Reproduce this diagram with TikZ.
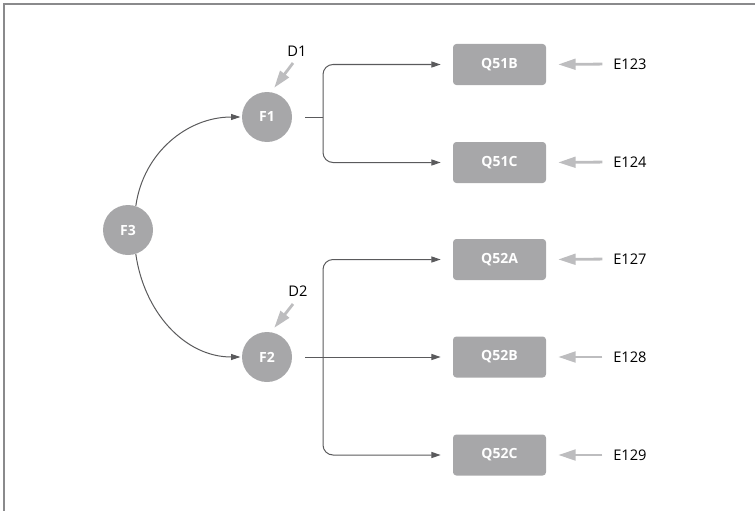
\documentclass[tikz,border=0pt]{standalone}
\usepackage{fontspec}
\setmainfont{Open Sans}
\usetikzlibrary{arrows.meta,calc}
\definecolor{framec}{HTML}{8A8A8C}
\definecolor{nodec}{HTML}{A7A7A9}
\definecolor{linec}{HTML}{5A5A5C}
\definecolor{garrc}{HTML}{BDBDBF}
\begin{document}
\begin{tikzpicture}[x=0.75pt,y=-0.75pt,
 fac/.style={circle,fill=nodec,minimum size=37.5pt,inner sep=0pt,text=white,font=\fontsize{10.5}{12}\selectfont\bfseries},
 item/.style={rectangle,rounded corners=2.5pt,fill=nodec,minimum width=69.75pt,minimum height=30.75pt,inner sep=0pt,text=white,font=\fontsize{10.5}{12}\selectfont\bfseries},
 lab/.style={font=\fontsize{11}{12}\selectfont,inner sep=0pt},
 conn/.style={draw=linec,line width=0.75pt},
 arr/.style={conn,-{Triangle[length=7pt,width=4.5pt]}},
 garr/.style={draw=garrc,line width=2.1pt,-{Triangle[length=13pt,width=8pt]}},
]
\useasboundingbox (0,0) rectangle (755,510);
\draw[framec,line width=1.5pt] (4,512) -- (4,4.5) -- (757,4.5);

\node[fac] (F3) at (128,230) {F3};
\node[fac] (F1) at (267,117) {F1};
\node[fac] (F2) at (267,357) {F2};

\node[item] (Q51B) at (499.5,64.5) {Q51B};
\node[item] (Q51C) at (499.5,162.5) {Q51C};
\node[item] (Q52A) at (499.5,259.5) {Q52A};
\node[item] (Q52B) at (499.5,357) {Q52B};
\node[item] (Q52C) at (499.5,455) {Q52C};

\node[lab,anchor=west] (E123) at (613,64) {E123};
\node[lab,anchor=west] (E124) at (613,162) {E124};
\node[lab,anchor=west] (E127) at (613,259) {E127};
\node[lab,anchor=west] (E128) at (613,357) {E128};
\node[lab,anchor=west] (E129) at (613,455) {E129};

\node[lab] (D1) at (297,51) {D1};
\node[lab] (D2) at (298,291) {D2};
\coordinate (d1t) at (293,63);
\coordinate (d2t) at (293,304);

% F3 to F1, F2
\draw[arr,shorten >=1pt] (F3.72) to[out=82,in=180] (F1.west);
\draw[arr,shorten >=1pt] (F3.-72) to[out=-82,in=180] (F2.west);

% F1 indicators
\coordinate (j1) at (323,117);
\draw[conn,shorten <=9.75pt] (F1.east) -- (j1);
\draw[arr,rounded corners=7.5pt,shorten >=9pt] (j1) |- (Q51B.west);
\draw[arr,rounded corners=7.5pt,shorten >=9pt] (j1) |- (Q51C.west);

% F2 indicators
\coordinate (j2) at (323,357);
\draw[arr,shorten <=9.75pt,shorten >=9pt] (F2.east) -- (Q52B.west);
\draw[arr,rounded corners=7.5pt,shorten >=9pt] (j2) |- (Q52A.west);
\draw[arr,rounded corners=7.5pt,shorten >=9pt] (j2) |- (Q52C.west);

% disturbances
\draw[garr,shorten >=4pt] (d1t) -- (F1.81);
\draw[garr,shorten >=4pt] (d2t) -- (F2.81);

% errors
\foreach \e/\q in {E123/Q51B,E124/Q51C,E127/Q52A,E128/Q52B,E129/Q52C}{
  \draw[garr,shorten <=8pt,shorten >=9pt] (\e.west) -- (\q.east);
}
\end{tikzpicture}
\end{document}
